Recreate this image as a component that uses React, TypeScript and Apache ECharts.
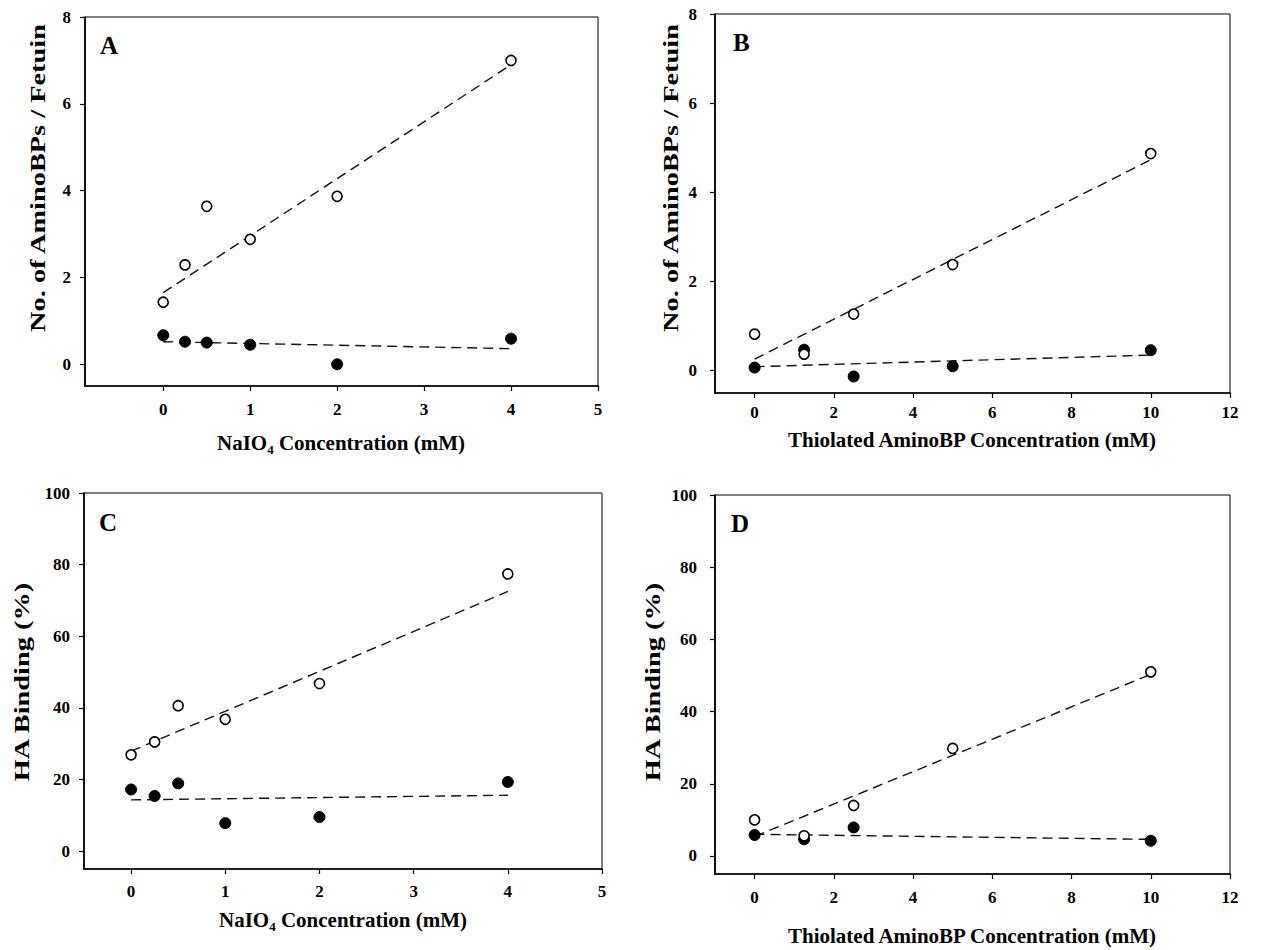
import React, { useEffect, useRef } from "react";
import * as echarts from "echarts";

// ---------- data ----------
const naio4X = [0, 0.25, 0.5, 1, 2, 4];
const thiolX = [0, 1.25, 2.5, 5, 10];
const thiolXFilledD = [0, 1.25, 2.5, 10];

const aOpen = [1.43, 2.29, 3.64, 2.88, 3.87, 7.0];
const aFilled = [0.67, 0.52, 0.5, 0.45, 0.0, 0.59];
const aFitX = [0, 4];
const aOpenFit = [1.65, 6.9];
const aFilledFit = [0.52, 0.36];

const bOpen = [0.82, 0.37, 1.27, 2.38, 4.87];
const bFilled = [0.07, 0.47, -0.13, 0.1, 0.46];
const bFitX = [0, 10];
const bOpenFit = [0.26, 4.73];
const bFilledFit = [0.09, 0.35];

const cOpen = [26.9, 30.5, 40.6, 36.8, 46.8, 77.4];
const cFilled = [17.2, 15.4, 18.9, 7.8, 9.5, 19.3];
const cFitX = [0, 4];
const cOpenFit = [27.9, 72.5];
const cFilledFit = [14.3, 15.6];

const dOpen = [10.0, 5.6, 14.0, 29.8, 51.0];
const dFilled = [5.8, 4.6, 7.9, 4.2];
const dFitX = [0, 10];
const dOpenFit = [5.4, 50.3];
const dFilledFit = [6.0, 4.6];

const naio4Ticks = [0, 1, 2, 3, 4, 5];
const thiolTicks = [0, 2, 4, 6, 8, 10, 12];
const countTicks = [0, 2, 4, 6, 8];
const percentTicks = [0, 20, 40, 60, 80, 100];

const yTitleCount = "No. of AminoBPs / Fetuin";
const yTitlePercent = "HA Binding (%)";
const xTitleNaio4 = "NaIO{s|4} Concentration (mM)";
const xTitleThiol = "Thiolated AminoBP Concentration (mM)";
const panelLetters = ["A", "B", "C", "D"];

const SERIF = '"Liberation Serif", "Times New Roman", serif';

const zip = (xs: number[], ys: number[]) => xs.map((x, i) => [x, ys[i]]);

type PanelCfg = {
  grid: { left: number; top: number; width: number; height: number };
  xMin: number; xMax: number; xTicks: number[];
  yMin: number; yMax: number; yTicks: number[];
  xLabelMargin: number; yLabelMargin: number;
  openX: number[]; open: number[];
  filledX: number[]; filled: number[];
  fitX: number[]; openFit: number[]; filledFit: number[];
};

function buildPanels(panels: PanelCfg[]) {
  const grid: any[] = [];
  const xAxis: any[] = [];
  const yAxis: any[] = [];
  const series: any[] = [];
  panels.forEach((p, i) => {
    grid.push({
      ...p.grid,
      show: true,
      borderColor: "#000",
      borderWidth: 1,
      backgroundColor: "transparent",
    });
    const common = {
      type: "value",
      gridIndex: i,
      splitLine: { show: false },
      axisLine: { show: true, onZero: false, lineStyle: { color: "#000", width: 1.7 } },
    };
    const label = (values: number[], margin: number) => ({
      customValues: values,
      margin,
      fontFamily: SERIF,
      fontWeight: "bold",
      fontSize: 17,
      color: "#000",
      showMinLabel: true,
      showMaxLabel: true,
    });
    xAxis.push({
      ...common,
      min: p.xMin,
      max: p.xMax,
      axisTick: { show: true, inside: false, length: 5, customValues: p.xTicks, lineStyle: { color: "#000", width: 1.2 } },
      axisLabel: label(p.xTicks, p.xLabelMargin),
    });
    yAxis.push({
      ...common,
      min: p.yMin,
      max: p.yMax,
      axisTick: { show: true, inside: false, length: 5, customValues: p.yTicks, lineStyle: { color: "#000", width: 1.2 } },
      axisLabel: label(p.yTicks, p.yLabelMargin),
    });
    const dash = { color: "#111", width: 1.4, type: [10, 6] };
    series.push({
      type: "line",
      xAxisIndex: i,
      yAxisIndex: i,
      data: zip(p.fitX, p.openFit),
      symbol: "none",
      lineStyle: dash,
      z: 2,
      silent: true,
    });
    series.push({
      type: "line",
      xAxisIndex: i,
      yAxisIndex: i,
      data: zip(p.fitX, p.filledFit),
      symbol: "none",
      lineStyle: dash,
      z: 2,
      silent: true,
    });
    series.push({
      type: "scatter",
      xAxisIndex: i,
      yAxisIndex: i,
      data: zip(p.filledX, p.filled),
      symbol: "circle",
      symbolSize: 11,
      itemStyle: { color: "#000", borderColor: "#000", borderWidth: 1, opacity: 1 },
      z: 3,
    });
    series.push({
      type: "scatter",
      xAxisIndex: i,
      yAxisIndex: i,
      data: zip(p.openX, p.open),
      symbol: "circle",
      symbolSize: 10,
      itemStyle: { color: "#fff", borderColor: "#000", borderWidth: 1.6, opacity: 1 },
      z: 4,
    });
  });
  return { grid, xAxis, yAxis, series };
}

export default function App() {
  const ref = useRef<HTMLDivElement>(null);
  useEffect(() => {
    if (!ref.current) return;
    const chart = echarts.init(ref.current, undefined, { renderer: "svg" });
    const panels: PanelCfg[] = [
      {
        grid: { left: 85, top: 17, width: 513, height: 369 },
        xMin: -0.9, xMax: 5, xTicks: naio4Ticks,
        yMin: -0.5, yMax: 8, yTicks: countTicks,
        xLabelMargin: 15, yLabelMargin: 14,
        openX: naio4X, open: aOpen, filledX: naio4X, filled: aFilled,
        fitX: aFitX, openFit: aOpenFit, filledFit: aFilledFit,
      },
      {
        grid: { left: 715, top: 14, width: 515, height: 379 },
        xMin: -1, xMax: 12, xTicks: thiolTicks,
        yMin: -0.5, yMax: 8, yTicks: countTicks,
        xLabelMargin: 11, yLabelMargin: 18,
        openX: thiolX, open: bOpen, filledX: thiolX, filled: bFilled,
        fitX: bFitX, openFit: bOpenFit, filledFit: bFilledFit,
      },
      {
        grid: { left: 84, top: 493, width: 518, height: 376 },
        xMin: -0.5, xMax: 5, xTicks: naio4Ticks,
        yMin: -5, yMax: 100, yTicks: percentTicks,
        xLabelMargin: 14, yLabelMargin: 14,
        openX: naio4X, open: cOpen, filledX: naio4X, filled: cFilled,
        fitX: cFitX, openFit: cOpenFit, filledFit: cFilledFit,
      },
      {
        grid: { left: 715, top: 495, width: 515, height: 379 },
        xMin: -1, xMax: 12, xTicks: thiolTicks,
        yMin: -5, yMax: 100, yTicks: percentTicks,
        xLabelMargin: 15, yLabelMargin: 18,
        openX: thiolX, open: dOpen, filledX: thiolXFilledD, filled: dFilled,
        fitX: dFitX, openFit: dOpenFit, filledFit: dFilledFit,
      },
    ];
    const built = buildPanels(panels);

    const titleFont = { fontFamily: SERIF, fontWeight: "bold", fill: "#000" };
    const yTitle = (text: string, x: number, y: number) => ({
      type: "text",
      x,
      y,
      rotation: Math.PI / 2,
      scaleX: 1.35,
      style: { text, fontSize: 21, align: "center", verticalAlign: "middle", ...titleFont },
    });
    const xTitle = (text: string, x: number, y: number) => ({
      type: "text",
      x,
      y,
      style: {
        text,
        fontSize: 21,
        align: "center",
        verticalAlign: "middle",
        ...titleFont,
        rich: { s: { fontSize: 13, fontFamily: SERIF, fontWeight: "bold", fill: "#000", padding: [12, 0, 0, 0] } },
      },
    });
    const letter = (text: string, x: number, y: number) => ({
      type: "text",
      x,
      y,
      style: { text, fontSize: 25, align: "left", verticalAlign: "middle", ...titleFont },
    });

    chart.setOption({
      animation: false,
      backgroundColor: "#fff",
      ...built,
      graphic: [
        yTitle(yTitleCount, 38, 178),
        yTitle(yTitleCount, 671, 178),
        yTitle(yTitlePercent, 22, 682),
        yTitle(yTitlePercent, 653, 682),
        xTitle(xTitleNaio4, 341, 443),
        xTitle(xTitleThiol, 972, 440),
        xTitle(xTitleNaio4, 343, 920),
        xTitle(xTitleThiol, 972, 936),
        letter(panelLetters[0], 100, 45),
        letter(panelLetters[1], 733, 42),
        letter(panelLetters[2], 99, 522),
        letter(panelLetters[3], 731, 523),
      ],
    });
    return () => chart.dispose();
  }, []);
  return (
    <div
      ref={ref}
      style={{ position: "fixed", left: 0, top: 0, width: 1266, height: 950, background: "#fff" }}
    />
  );
}
